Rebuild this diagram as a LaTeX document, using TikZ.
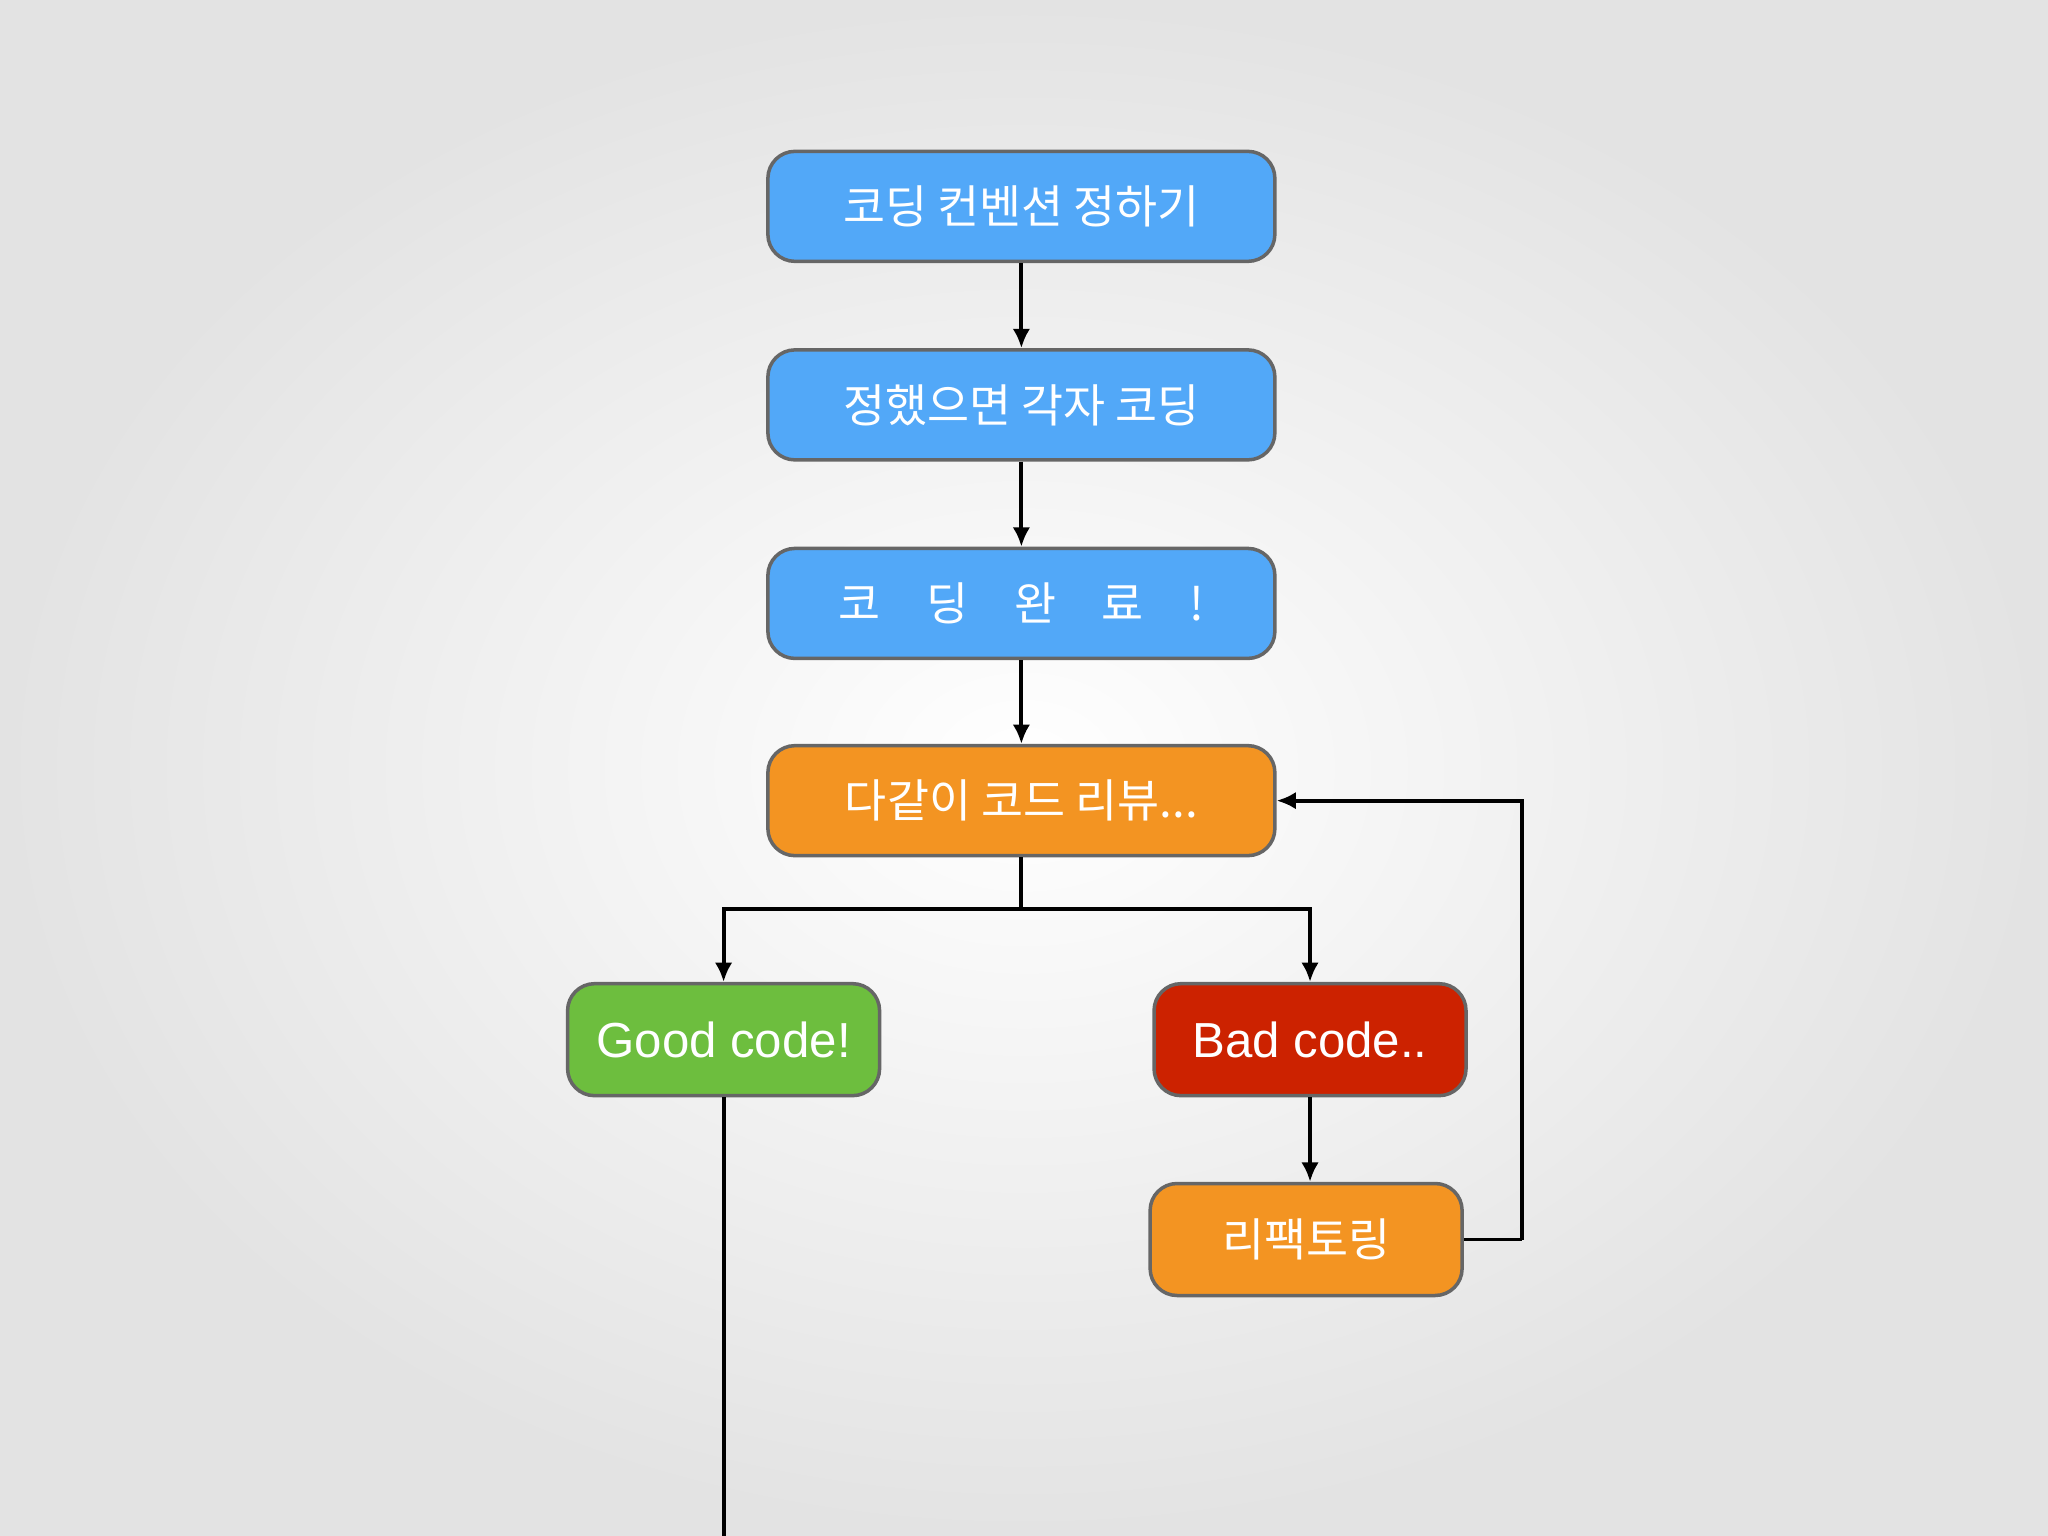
\documentclass[tikz,border=0pt]{standalone}
\usepackage{fontspec}
\setmainfont{Noto Sans CJK KR}
\newfontfamily\latinfont{Liberation Sans}
\usetikzlibrary{arrows.meta,positioning}
\definecolor{stepblue}{HTML}{52A8F8}
\definecolor{steporange}{HTML}{F39422}
\definecolor{stepgreen}{HTML}{6DBE3E}
\definecolor{stepred}{HTML}{CC2200}
\tikzset{
  flowbox/.style={draw=gray!80!black, line width=1pt, rounded corners=0.27cm,
    text=white, font=\fontsize{13}{15}\selectfont, inner sep=0pt},
  wide/.style={flowbox, minimum width=5.07cm, minimum height=1.10cm},
  narrow/.style={flowbox, minimum width=3.12cm, minimum height=1.12cm,
    font=\latinfont\fontsize{14}{16}\selectfont},
  flow/.style={draw=black, line width=1.1pt, -{Latex[length=5.5pt,width=5pt]}},
  wire/.style={draw=black, line width=1.1pt}
}
\begin{document}
\begin{tikzpicture}[x=0.01306cm, y=-0.01306cm]
  % background
  \shade[inner color=white, outer color=gray!22] (0,0) rectangle (1568,1176);
  \useasboundingbox (0,0) rectangle (1568,1176);
  % steps
  \node[wide, fill=stepblue] (rule) at (782,158) {코딩 컨벤션 정하기};
  \node[wide, fill=stepblue] (code) at (782,310) {정했으면 각자 코딩};
  \node[wide, fill=stepblue] (done) at (782,462) {코\quad 딩\quad 완\quad 료\quad !};
  \node[wide, fill=steporange] (review) at (782,613) {다같이 코드 리뷰...};
  \node[narrow, fill=stepgreen] (good) at (554,796) {Good code!};
  \node[narrow, fill=stepred] (bad) at (1003,796) {Bad code..};
  \node[wide, minimum width=3.12cm, minimum height=1.12cm, fill=steporange] (refac) at (1000,949) {리팩토링};
  % helper points
  \coordinate (split) at (782,696);
  \coordinate (loop) at (1165,949);
  \coordinate (out) at (554,1176);
  % connectors
  \draw[flow] (rule) -- (code);
  \draw[flow] (code) -- (done);
  \draw[flow] (done) -- (review);
  \draw[wire] (review) -- (split);
  \draw[flow] (split) -| (good);
  \draw[flow] (split) -| (bad);
  \draw[flow] (bad) -- (refac.north -| bad.south);
  \draw[wire] (refac.east) -- (loop);
  \draw[flow] (loop) |- (review.east);
  \draw[wire] (good) -- (out);
\end{tikzpicture}
\end{document}
